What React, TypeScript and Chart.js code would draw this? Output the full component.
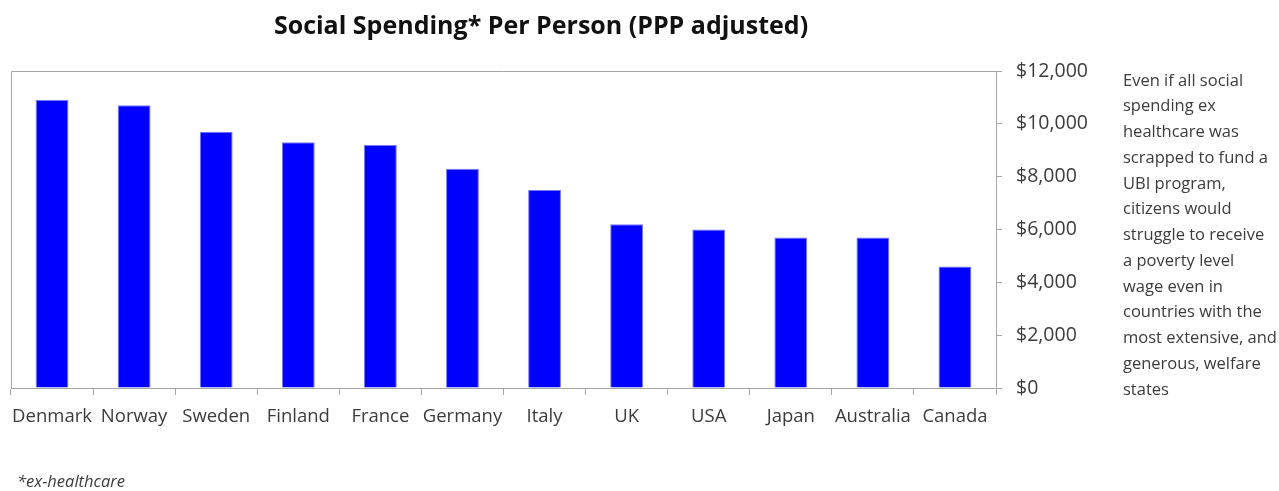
import React, { useEffect, useRef } from "react";
import { Chart, registerables } from "chart.js";

Chart.register(...registerables);

const countries = ["Denmark", "Norway", "Sweden", "Finland", "France", "Germany", "Italy", "UK", "USA", "Japan", "Australia", "Canada"];
const spending = [10900, 10700, 9700, 9300, 9200, 8300, 7500, 6200, 6000, 5700, 5700, 4600];
const titleText = "Social Spending* Per Person (PPP adjusted)";
const noteLines = [
  "Even if all social",
  "spending ex",
  "healthcare was",
  "scrapped to fund a",
  "UBI program,",
  "citizens would",
  "struggle to receive",
  "a poverty level",
  "wage even in",
  "countries with the",
  "most extensive, and",
  "generous, welfare",
  "states",
];
const footnote = "*ex-healthcare";

const FONT = "'Open Sans', sans-serif";
const GREY = "#a6a6a6";
const TEXT = "#3b3b3b";

const decorPlugin = {
  id: "decor",
  beforeDraw(chart: any) {
    const ctx = chart.ctx;
    ctx.save();
    ctx.fillStyle = "#ffffff";
    ctx.fillRect(0, 0, chart.width, chart.height);
    ctx.restore();
  },
  afterDraw(chart: any) {
    const ctx = chart.ctx;
    const a = chart.chartArea;
    ctx.save();
    ctx.strokeStyle = GREY;
    ctx.lineWidth = 1;
    ctx.beginPath();
    ctx.moveTo(a.left + 0.5, a.bottom);
    ctx.lineTo(a.left + 0.5, a.top + 0.5);
    ctx.lineTo(a.right, a.top + 0.5);
    ctx.stroke();
    ctx.fillStyle = "#111111";
    ctx.font = `bold 25px ${FONT}`;
    ctx.textAlign = "center";
    ctx.textBaseline = "middle";
    ctx.fillText(titleText, 541, 27);
    ctx.fillStyle = TEXT;
    ctx.font = `16.5px ${FONT}`;
    ctx.textAlign = "left";
    noteLines.forEach((l, i) => ctx.fillText(l, 1123, 81 + i * 25.75));
    ctx.font = `italic 16.5px ${FONT}`;
    ctx.fillText(footnote, 17, 482);
    ctx.restore();
  },
};

export default function App() {
  const ref = useRef<HTMLCanvasElement>(null);
  useEffect(() => {
    if (!ref.current) return;
    const chart = new Chart(ref.current, {
      type: "bar",
      data: {
        labels: countries,
        datasets: [
          {
            data: spending,
            backgroundColor: "#0000ff",
            borderColor: "#7777ff",
            borderWidth: 1,
            barPercentage: 0.4,
            categoryPercentage: 1,
          },
        ],
      },
      options: {
        animation: false,
        responsive: false,
        devicePixelRatio: 1,
        layout: { padding: { left: 11, top: 71, right: 0, bottom: 0 } },
        plugins: { legend: { display: false }, tooltip: { enabled: false }, title: { display: false } },
        scales: {
          x: {
            offset: true,
            grid: { offset: true, drawOnChartArea: false, drawTicks: true, tickLength: 7, color: GREY },
            border: { color: GREY },
            ticks: { color: TEXT, font: { family: FONT, size: 18.5 }, padding: 11, maxRotation: 0, autoSkip: false },
            afterFit: (s: any) => { s.height = 103; },
          },
          y: {
            position: "right",
            min: 0,
            max: 12000,
            grid: { drawOnChartArea: false, drawTicks: true, tickLength: 6, color: GREY },
            border: { color: GREY },
            ticks: {
              stepSize: 2000,
              color: TEXT,
              font: { family: FONT, size: 19.5 },
              padding: 14,
              callback: (v: any) => "$" + Number(v).toLocaleString("en-US"),
            },
            afterFit: (s: any) => { s.width = 283; },
          },
        },
      },
      plugins: [decorPlugin],
    });
    return () => chart.destroy();
  }, []);
  return (
    <div style={{ position: "fixed", left: 0, top: 0, width: 1279, height: 491 }}>
      <canvas ref={ref} width={1279} height={491} style={{ width: 1279, height: 491 }} />
    </div>
  );
}
